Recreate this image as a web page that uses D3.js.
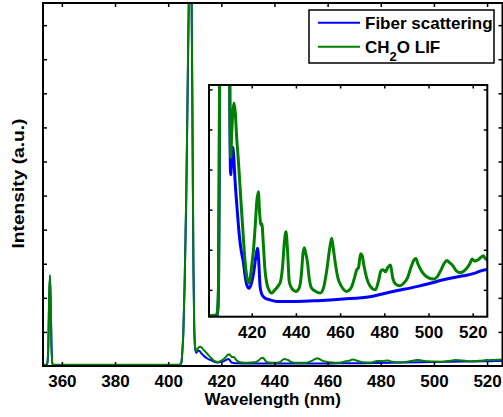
<!DOCTYPE html>
<html>
<head>
<meta charset="utf-8">
<script src="https://cdn.jsdelivr.net/npm/d3@7/dist/d3.min.js"></script>
<style>
  html, body { margin: 0; padding: 0; background: #fff; }
  svg { display: block; }
  text { font-family: "Liberation Sans", Arial, sans-serif; font-weight: bold; fill: #000; }
</style>
</head>
<body>
<svg id="chart" width="503" height="417"></svg>
<script>
// CH2O LIF spectrum (green) and fiber scattering background (blue), arbitrary units
const lifWavelength = [
  353.0, 354.0, 354.5, 354.9, 355.2, 355.5, 355.8, 356.1, 356.5, 357.0,
  370.0, 380.0, 390.0, 400.0, 404.0, 404.6, 405.0, 405.3, 405.7, 406.2,
  406.8, 407.3, 407.8, 408.3, 408.8, 409.2, 409.5, 409.8, 410.1, 410.5,
  410.9, 411.4, 412.0, 412.6, 413.2, 414.0, 414.7, 415.5, 416.2, 417.0,
  417.8, 418.5, 419.2, 420.0, 420.8, 421.6, 422.3, 423.0, 423.6, 424.2,
  424.6, 425.2, 426.0, 426.8, 427.8, 429.0, 430.5, 432.0, 433.0, 434.0,
  434.8, 435.5, 436.2, 437.0, 438.0, 440.0, 441.5, 442.5, 443.2, 443.8,
  444.5, 445.2, 446.0, 447.0, 449.0, 451.0, 452.5, 454.0, 455.2, 456.2,
  457.0, 458.0, 459.0, 460.5, 463.0, 465.0, 466.5, 467.5, 468.3, 469.3,
  470.0, 470.8, 472.0, 473.5, 476.0, 477.5, 478.5, 479.5, 480.5, 481.5,
  482.8, 483.8, 485.0, 487.0, 489.0, 490.5, 492.0, 493.5, 494.3, 495.2,
  496.5, 498.0, 500.0, 502.3, 504.0, 505.5, 507.0, 508.3, 509.5, 511.0,
  512.5, 514.0, 515.5, 517.0, 518.5, 519.8, 520.7, 521.5, 522.5, 523.5,
  524.8, 525.5, 526.6
];
const lifIntensity = [
  0.035, 0.035, 0.08, 0.6, 2.0, 2.67, 1.9, 0.6, 0.06, 0.035,
  0.035, 0.035, 0.035, 0.035, 0.037, 0.05, 0.12, 0.4, 1.0, 2.5,
  5.0, 8.0, 11.0, 12.5, 11.0, 6.5, 3.0, 1.2, 0.6, 0.43,
  0.48, 0.54, 0.566, 0.54, 0.48, 0.42, 0.36, 0.29, 0.233, 0.17,
  0.133, 0.117, 0.125, 0.16, 0.2, 0.26, 0.32, 0.345, 0.29, 0.262,
  0.265, 0.22, 0.15, 0.117, 0.1, 0.092, 0.1, 0.11, 0.12, 0.16,
  0.22, 0.245, 0.2, 0.12, 0.105, 0.096, 0.105, 0.14, 0.19, 0.205,
  0.19, 0.17, 0.13, 0.105, 0.096, 0.092, 0.105, 0.15, 0.2, 0.229,
  0.2, 0.16, 0.13, 0.11, 0.096, 0.105, 0.13, 0.15, 0.155, 0.19,
  0.185, 0.16, 0.13, 0.11, 0.1, 0.125, 0.148, 0.15, 0.145, 0.155,
  0.162, 0.13, 0.115, 0.11, 0.118, 0.13, 0.155, 0.175, 0.178, 0.165,
  0.15, 0.138, 0.13, 0.127, 0.133, 0.148, 0.165, 0.173, 0.168, 0.16,
  0.148, 0.143, 0.145, 0.152, 0.163, 0.177, 0.172, 0.173, 0.175, 0.18,
  0.185, 0.18, 0.174
];

const fiberWavelength = [
  353.0, 354.0, 354.5, 354.9, 355.2, 355.5, 355.8, 356.1, 356.5, 357.0,
  370.0, 380.0, 390.0, 400.0, 404.0, 404.6, 405.0, 405.3, 405.7, 406.2,
  406.8, 407.3, 407.8, 408.3, 408.8, 409.2, 409.5, 409.8, 410.1, 410.5,
  410.9, 411.4, 411.9, 412.5, 413.2, 414.0, 414.7, 415.5, 416.2, 417.0,
  417.8, 418.8, 419.8, 420.8, 421.8, 422.6, 423.2, 423.8, 424.5, 425.3,
  426.5, 428.3, 431.3, 440.0, 450.0, 461.4, 473.5, 484.0, 494.6, 500.0,
  506.7, 511.0, 515.7, 518.5, 521.7, 524.0, 526.0, 526.6
];
const fiberIntensity = [
  0.03, 0.03, 0.07, 0.55, 1.95, 2.62, 1.85, 0.55, 0.05, 0.03,
  0.03, 0.03, 0.03, 0.03, 0.03, 0.045, 0.11, 0.38, 0.95, 2.4,
  4.9, 7.9, 10.9, 12.4, 10.9, 6.4, 2.9, 1.15, 0.55, 0.387,
  0.42, 0.456, 0.43, 0.37, 0.316, 0.26, 0.22, 0.19, 0.17, 0.135,
  0.112, 0.104, 0.115, 0.14, 0.18, 0.204, 0.17, 0.108, 0.09, 0.083,
  0.078, 0.075, 0.071, 0.071, 0.073, 0.077, 0.083, 0.096, 0.108, 0.115,
  0.125, 0.13, 0.135, 0.138, 0.143, 0.148, 0.15, 0.15
];

const mainXTicks = [360, 380, 400, 420, 440, 460, 480, 500, 520];
const mainYTicks = [1, 2, 3, 4, 5, 6, 7, 8, 9, 10];
const insetXTicks = [420, 440, 460, 480, 500, 520];
const insetYTicks = [0.1, 0.2, 0.3, 0.4, 0.5, 0.6];

const legendLabels = ["Fiber scattering", "CH2O LIF"];
const seriesColors = ["#0000ff", "#008000"];

const fiber = fiberWavelength.map((w, i) => [w, fiberIntensity[i]]);
const lif = lifWavelength.map((w, i) => [w, lifIntensity[i]]);
const series = [fiber, lif];

const svg = d3.select("#chart");

// ---------- main axes ----------
const M = { left: 43, right: 502.5, top: 3, bottom: 366 };
const x = d3.scaleLinear().domain([352.9, 525.8]).range([M.left, M.right]);
const y = d3.scaleLinear().domain([0, 10.65]).range([M.bottom, M.top]);

svg.append("clipPath").attr("id", "clipMain")
  .append("rect").attr("x", M.left).attr("y", M.top)
  .attr("width", M.right - M.left).attr("height", M.bottom - M.top);

const mainLine = d3.line().x(d => x(d[0])).y(d => y(d[1])).curve(d3.curveMonotoneX);
const gMain = svg.append("g").attr("clip-path", "url(#clipMain)");
series.forEach((s, i) => {
  gMain.append("path").datum(s).attr("d", mainLine)
    .attr("fill", "none").attr("stroke", seriesColors[i])
    .attr("stroke-width", 2).attr("stroke-linejoin", "round");
});

function styleAxis(g) {
  g.select(".domain").remove();
  g.selectAll(".tick line").attr("stroke", "#000").attr("stroke-width", 1.5);
  g.selectAll(".tick text").attr("font-size", 17).attr("font-weight", "bold")
    .attr("font-family", "'Liberation Sans', Arial, sans-serif");
}

svg.append("g").attr("transform", `translate(0,${M.bottom})`)
  .call(d3.axisBottom(x).tickValues(mainXTicks).tickSize(-4).tickPadding(8.5).tickFormat(d3.format("d")))
  .call(styleAxis);
svg.append("g").attr("transform", `translate(0,${M.top})`)
  .call(d3.axisTop(x).tickValues(mainXTicks).tickSize(-4).tickFormat(""))
  .call(styleAxis);
svg.append("g").attr("transform", `translate(${M.left},0)`)
  .call(d3.axisLeft(y).tickValues(mainYTicks).tickSize(-4).tickFormat(""))
  .call(styleAxis);
svg.append("g").attr("transform", `translate(${M.right},0)`)
  .call(d3.axisRight(y).tickValues(mainYTicks).tickSize(-4).tickFormat(""))
  .call(styleAxis);

svg.append("rect").attr("x", M.left).attr("y", M.top)
  .attr("width", M.right - M.left).attr("height", M.bottom - M.top)
  .attr("fill", "none").attr("stroke", "#000").attr("stroke-width", 2);

svg.append("text").attr("x", (M.left + M.right) / 2).attr("y", 405)
  .attr("text-anchor", "middle").attr("font-size", 17).text("Wavelength (nm)");

svg.append("text").attr("transform", "translate(23.5,183.5) rotate(-90)")
  .attr("text-anchor", "middle").attr("font-size", 17)
  .attr("textLength", 130).attr("lengthAdjust", "spacingAndGlyphs")
  .text("Intensity (a.u.)");

// ---------- inset ----------
const I = { left: 209, right: 487.3, top: 85, bottom: 316.7 };
const xi = d3.scaleLinear().domain([400.68, 526.6]).range([I.left, I.right]);
const yi = d3.scaleLinear().domain([0.033, 0.611]).range([I.bottom, I.top]);

svg.append("rect").attr("x", I.left).attr("y", I.top)
  .attr("width", I.right - I.left).attr("height", I.bottom - I.top)
  .attr("fill", "#fff");

svg.append("clipPath").attr("id", "clipInset")
  .append("rect").attr("x", I.left).attr("y", I.top)
  .attr("width", I.right - I.left).attr("height", I.bottom - I.top);

const insetLine = d3.line().x(d => xi(d[0])).y(d => yi(d[1])).curve(d3.curveMonotoneX);
const gInset = svg.append("g").attr("clip-path", "url(#clipInset)");
series.forEach((s, i) => {
  gInset.append("path").datum(s).attr("d", insetLine)
    .attr("fill", "none").attr("stroke", seriesColors[i])
    .attr("stroke-width", 3).attr("stroke-linejoin", "round");
});

svg.append("g").attr("transform", `translate(0,${I.bottom})`)
  .call(d3.axisBottom(xi).tickValues(insetXTicks).tickSize(-3.5).tickPadding(9).tickFormat(d3.format("d")))
  .call(styleAxis);
svg.append("g").attr("transform", `translate(0,${I.top})`)
  .call(d3.axisTop(xi).tickValues(insetXTicks).tickSize(-3.5).tickFormat(""))
  .call(styleAxis);
svg.append("g").attr("transform", `translate(${I.left},0)`)
  .call(d3.axisLeft(yi).tickValues(insetYTicks).tickSize(-3.5).tickFormat(""))
  .call(styleAxis);
svg.append("g").attr("transform", `translate(${I.right},0)`)
  .call(d3.axisRight(yi).tickValues(insetYTicks).tickSize(-3.5).tickFormat(""))
  .call(styleAxis);

svg.append("rect").attr("x", I.left).attr("y", I.top)
  .attr("width", I.right - I.left).attr("height", I.bottom - I.top)
  .attr("fill", "none").attr("stroke", "#000").attr("stroke-width", 2);

// ---------- legend ----------
const legend = svg.append("g");
legend.append("rect").attr("x", 309).attr("y", 10).attr("width", 185).attr("height", 53)
  .attr("fill", "#fff").attr("stroke", "#000").attr("stroke-width", 1.5);

const rowY = [22.7, 46.7];
legendLabels.forEach((label, i) => {
  legend.append("line").attr("x1", 318).attr("x2", 360)
    .attr("y1", rowY[i]).attr("y2", rowY[i])
    .attr("stroke", seriesColors[i]).attr("stroke-width", 2);
  const t = legend.append("text").attr("x", 365).attr("y", rowY[i] + 6.4).attr("font-size", 17);
  const m = label.match(/^CH(\d)O(.*)$/);
  if (m) {
    t.append("tspan").text("CH");
    t.append("tspan").attr("font-size", 13).attr("dy", 8).text(m[1]);
    t.append("tspan").attr("dy", -8).text("O" + m[2]);
  } else {
    t.text(label);
  }
});
</script>
</body>
</html>
